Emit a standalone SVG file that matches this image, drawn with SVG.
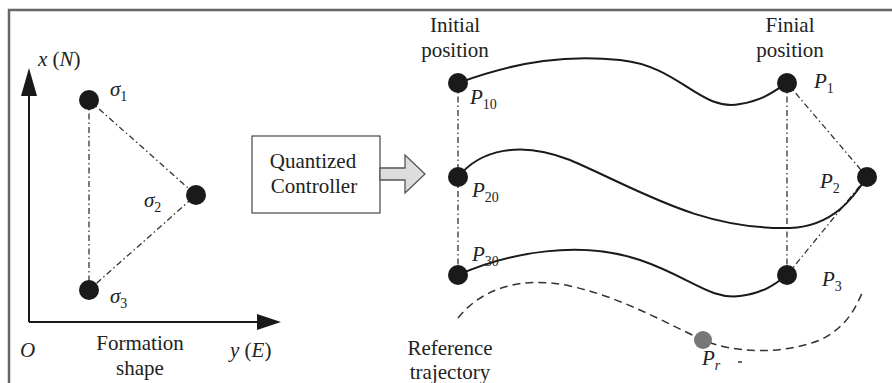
<svg xmlns="http://www.w3.org/2000/svg" width="892" height="383" viewBox="0 0 892 383">
<defs>
<style>
.t{font-family:"Liberation Serif","Times New Roman",serif;font-size:21px;fill:#222}
.i{font-family:"Liberation Serif","Times New Roman",serif;font-size:21px;font-style:italic;fill:#222}
.s{font-size:14px;font-style:normal}
.dd{fill:none;stroke:#333;stroke-width:1.3;stroke-dasharray:6 3 1.5 3}
.cv{fill:none;stroke:#1a1a1a;stroke-width:2}
.rf{fill:none;stroke:#333;stroke-width:1.5;stroke-dasharray:8 5}
.dot{fill:#1a1a1a}
</style>
</defs>
<rect width="892" height="383" fill="#fff"/>
<path d="M9,384 V10 H893" fill="none" stroke="#666" stroke-width="2.5"/>

<g id="axes">
<path d="M29,322 V88 M29,322 H262" fill="none" stroke="#1a1a1a" stroke-width="2"/>
<polygon points="29,68 21,96 37,96" fill="#1a1a1a"/>
<polygon points="281,322 257,314 257,330" fill="#1a1a1a"/>
<text class="i" x="38" y="66">x<tspan font-style="normal"> (</tspan>N<tspan font-style="normal">)</tspan></text>
<text class="i" x="20" y="357">O</text>
<text class="i" x="230" y="357">y<tspan font-style="normal"> (</tspan>E<tspan font-style="normal">)</tspan></text>
<text class="t" x="140" y="350" text-anchor="middle">Formation</text>
<text class="t" x="140" y="375" text-anchor="middle">shape</text>
</g>

<g id="formation-links">
<path class="dd" d="M89,100 V290 M89,100 L196,195 L89,290"/>
</g>
<g id="sigma1"><circle class="dot" cx="89" cy="100" r="10"/><text class="i" x="110" y="96">σ<tspan class="s" dy="5">1</tspan></text></g>
<g id="sigma2"><circle class="dot" cx="196" cy="195" r="10"/><text class="i" x="144" y="207">σ<tspan class="s" dy="5">2</tspan></text></g>
<g id="sigma3"><circle class="dot" cx="89" cy="290" r="10"/><text class="i" x="110" y="303">σ<tspan class="s" dy="5">3</tspan></text></g>

<g id="controller">
<rect x="252" y="136" width="128" height="77" fill="#fff" stroke="#555" stroke-width="1.3"/>
<text class="t" x="313" y="168" text-anchor="middle">Quantized</text>
<text class="t" x="314" y="193" text-anchor="middle">Controller</text>
</g>
<g id="big-arrow">
<polygon points="380,168 405,168 405,155 425,174 405,193 405,180 380,180" fill="#ddd" stroke="#555" stroke-width="1.3"/>
</g>

<g id="connectors">
<path class="dd" d="M458,83 V275 M787,83 V275 M787,83 L867,177 L787,275"/>
<path class="cv" d="M458,83 C520,60 570,55 620,60 C680,66 700,112 740,104 C765,100 775,90 787,83"/>
<path class="cv" d="M458,177 C480,150 520,140 570,160 C640,190 700,230 790,228 C835,226 855,195 867,177"/>
<path class="cv" d="M458,275 C510,252 580,240 640,260 C690,277 710,300 740,296 C765,293 778,282 787,275"/>
<path class="rf" d="M458,318 C480,290 520,275 570,286 C620,297 660,320 703,340 C730,352 780,356 820,340 C845,328 855,310 862,293"/>
</g>

<g id="initial-label">
<text class="t" x="455" y="32" text-anchor="middle">Initial</text>
<text class="t" x="455" y="57" text-anchor="middle">position</text>
</g>
<g id="final-label">
<text class="t" x="790" y="32" text-anchor="middle">Finial</text>
<text class="t" x="790" y="57" text-anchor="middle">position</text>
</g>

<g id="P10"><circle class="dot" cx="458" cy="83" r="10"/><text class="i" x="470" y="104">P<tspan class="s" dy="5">10</tspan></text></g>
<g id="P20"><circle class="dot" cx="458" cy="177" r="10"/><text class="i" x="472" y="197">P<tspan class="s" dy="5">20</tspan></text></g>
<g id="P30"><circle class="dot" cx="458" cy="275" r="10"/><text class="i" x="472" y="261">P<tspan class="s" dy="5">30</tspan></text></g>
<g id="P1"><circle class="dot" cx="787" cy="83" r="10"/><text class="i" x="814" y="88">P<tspan class="s" dy="5">1</tspan></text></g>
<g id="P2"><circle class="dot" cx="867" cy="177" r="10"/><text class="i" x="820" y="188">P<tspan class="s" dy="5">2</tspan></text></g>
<g id="P3"><circle class="dot" cx="787" cy="275" r="10"/><text class="i" x="822" y="286">P<tspan class="s" dy="5">3</tspan></text></g>
<g id="Pr"><circle cx="703" cy="340" r="9" fill="#777"/><text class="i" x="702" y="365">P<tspan dy="5" style="font-size:14px;font-style:italic">r</tspan></text><path d="M738,362 H742" stroke="#333" stroke-width="1.5"/></g>

<g id="reference-label">
<text class="t" x="450" y="355" text-anchor="middle">Reference</text>
<text class="t" x="450" y="379" text-anchor="middle">trajectory</text>
</g>
</svg>
